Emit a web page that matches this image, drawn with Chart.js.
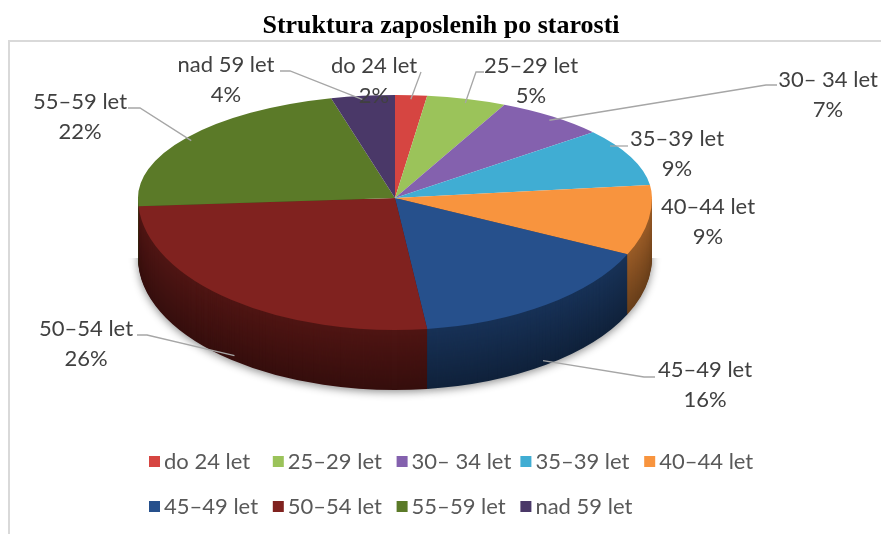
<!DOCTYPE html>
<html>
<head>
<meta charset="utf-8">
<script src="https://cdn.jsdelivr.net/npm/chart.js@4"></script>
<style>
  html, body { margin: 0; padding: 0; background: #fff; }
  #wrap { width: 881px; height: 534px; }
</style>
</head>
<body>
<div id="wrap"><canvas id="pieChart" width="881" height="534"></canvas></div>
<script>
// chart data
const chartTitle = "Struktura zaposlenih po starosti";
const categories = ["do 24 let", "25–29 let", "30– 34 let", "35–39 let", "40–44 let", "45–49 let", "50–54 let", "55–59 let", "nad 59 let"];
const shares = [2, 5, 7, 9, 9, 16, 26, 22, 4];
const sliceColors = ["#D64541", "#9BC35A", "#8461AE", "#40ADD3", "#F8943E", "#26508C", "#80221F", "#5B7A28", "#4A3868"];

const FONT = "Lato, 'Open Sans', sans-serif";
const TEXT_COLOR = "#404040";

// where each data label sits (text centre) and its leader line stub
const labelLayout = [
  { x: 374, y: 66, stub: [[421, 72]] },
  { x: 531, y: 66, stub: [[484, 72], [476, 72]] },
  { x: 828, y: 80, stub: [[777, 85], [766, 85]] },
  { x: 677, y: 139, stub: [[628, 146], [610, 146]], noAnchor: true },
  { x: 708, y: 207, stub: null },
  { x: 705, y: 370, stub: [[655, 377], [644, 377]], side: true },
  { x: 86, y: 329, stub: [[137, 335], [147, 335]], side: true },
  { x: 80, y: 102, stub: [[128, 108], [140, 108]] },
  { x: 226, y: 65, stub: [[280, 71], [290, 71]] },
];

// pie geometry on screen (back half flatter than front half)
const pieView = { cy: 198, ryBack: 103, ryFront: 132, depth: 60 };

// darken a hex colour
function shade(hex, f) {
  const n = parseInt(hex.slice(1), 16);
  const r = Math.round(((n >> 16) & 255) * f);
  const g = Math.round(((n >> 8) & 255) * f);
  const b = Math.round((n & 255) * f);
  return `rgb(${r},${g},${b})`;
}

// map chart coords to the squashed screen ellipse
function applyView(ctx, arc, ry, dy) {
  ctx.translate(0, pieView.cy + dy);
  ctx.scale(1, ry / arc.outerRadius);
  ctx.translate(0, -arc.y);
}

function clipRows(ctx, y0, y1) {
  ctx.beginPath();
  ctx.rect(0, y0, 881, y1 - y0);
  ctx.clip();
}

// squash the pie into a tilted disc and draw the side wall
const pie3d = {
  id: "pie3d",
  beforeDatasetsDraw(chart) {
    const ctx = chart.ctx;
    const arcs = chart.getDatasetMeta(0).data;
    const ref = arcs[0];

    for (let d = pieView.depth; d >= 1; d--) {
      ctx.save();
      clipRows(ctx, pieView.cy + d, 534);
      applyView(ctx, ref, pieView.ryFront, d);
      if (d === pieView.depth) {
        ctx.shadowColor = "rgba(0,0,0,0.45)";
        ctx.shadowBlur = 8;
        ctx.shadowOffsetY = 2;
      }
      const f = 0.62 - 0.2 * d / pieView.depth;
      arcs.forEach((arc, i) => {
        const c = shade(sliceColors[i], f);
        const wrapped = Object.create(arc);
        wrapped.options = new Proxy(arc.options, {
          get: (t, p) => (p === "backgroundColor" || p === "borderColor" ? c : t[p]),
        });
        arc.draw.call(wrapped, ctx);
      });
      ctx.restore();
    }

    // back half of the top face is drawn by chart.js itself
    ctx.save();
    clipRows(ctx, 0, pieView.cy);
    applyView(ctx, ref, pieView.ryBack, 0);
  },
  afterDatasetsDraw(chart) {
    const ctx = chart.ctx;
    ctx.restore();
    // front half of the top face
    const meta = chart.getDatasetMeta(0);
    ctx.save();
    clipRows(ctx, pieView.cy, 534);
    applyView(ctx, meta.data[0], pieView.ryFront, 0);
    meta.controller.draw();
    ctx.restore();
  },
};

// frame, title, data labels and legend
const decorations = {
  id: "decorations",
  beforeDraw(chart) {
    const ctx = chart.ctx;
    ctx.save();
    ctx.strokeStyle = "#d9d9d9";
    ctx.lineWidth = 2;
    ctx.strokeRect(9, 41, 900, 600);
    ctx.restore();
  },
  afterDraw(chart) {
    const ctx = chart.ctx;
    const arcs = chart.getDatasetMeta(0).data;
    const total = shares.reduce((a, b) => a + b, 0);

    ctx.save();
    // title
    ctx.fillStyle = "#000";
    ctx.font = "bold 26px 'Liberation Serif', 'Times New Roman', serif";
    ctx.textAlign = "center";
    ctx.textBaseline = "alphabetic";
    ctx.fillText(chartTitle, 441, 33);

    // leader lines
    ctx.strokeStyle = "#a6a6a6";
    ctx.lineWidth = 1.3;
    arcs.forEach((arc, i) => {
      const lay = labelLayout[i];
      if (!lay.stub) return;
      ctx.beginPath();
      ctx.moveTo(lay.stub[0][0], lay.stub[0][1]);
      for (let j = 1; j < lay.stub.length; j++) ctx.lineTo(lay.stub[j][0], lay.stub[j][1]);
      if (!lay.noAnchor) {
        const a = (arc.startAngle + arc.endAngle) / 2;
        const r = 0.98;
        const s = Math.sin(a);
        const ry = s < 0 ? pieView.ryBack : pieView.ryFront;
        const ax = arc.x + r * arc.outerRadius * Math.cos(a);
        const ay = pieView.cy + r * ry * s + (lay.side ? pieView.depth - 2 : 2);
        ctx.lineTo(ax, ay);
      }
      ctx.stroke();
    });

    // label text
    ctx.fillStyle = TEXT_COLOR;
    ctx.font = "22px " + FONT;
    ctx.textAlign = "center";
    ctx.textBaseline = "middle";
    categories.forEach((name, i) => {
      const lay = labelLayout[i];
      const pct = Math.round((shares[i] / total) * 100) + "%";
      ctx.fillText(name, lay.x, lay.y);
      ctx.fillText(pct, lay.x, lay.y + 30);
    });

    // legend in two rows of fixed columns
    ctx.textAlign = "left";
    categories.forEach((name, i) => {
      const col = i % 5;
      const row = Math.floor(i / 5);
      const x = 149 + col * 123.8;
      const y = 462 + row * 45;
      ctx.fillStyle = sliceColors[i];
      ctx.fillRect(x, y - 6, 11, 11);
      ctx.fillStyle = "#595959";
      ctx.fillText(name, x + 15, y);
    });
    ctx.restore();
  },
};

// 円グラフの生成
const chart = new Chart(document.getElementById("pieChart"), {
  type: "pie",
  data: {
    labels: categories,
    datasets: [
      {
        data: shares,
        backgroundColor: sliceColors,
        borderWidth: 0,
        clip: false,
      },
    ],
  },
  options: {
    responsive: false,
    devicePixelRatio: 1,
    animation: false,
    events: [],
    layout: { padding: { left: 138, right: 229, top: 10, bottom: 10 } },
    plugins: {
      legend: { display: false },
      title: { display: false },
      tooltip: { enabled: false },
    },
  },
  plugins: [pie3d, decorations],
});
</script>
</body>
</html>
